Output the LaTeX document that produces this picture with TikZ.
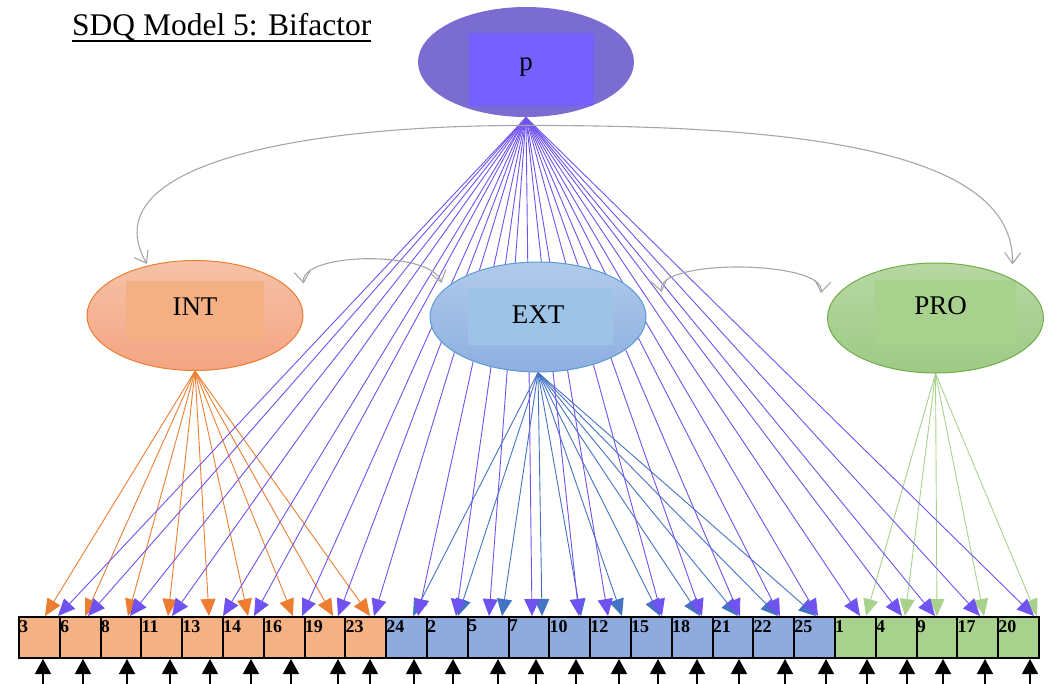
\documentclass[tikz,border=0pt]{standalone}
\usepackage{fontspec}
\setmainfont{Liberation Serif}
\usetikzlibrary{arrows.meta,shapes.geometric,backgrounds}
\definecolor{pcol}{HTML}{7B6CD1}
\definecolor{prect}{HTML}{7660FF}
\definecolor{pline}{HTML}{6F52F0}
\definecolor{oline}{HTML}{ED7D31}
\definecolor{bline}{HTML}{4472C4}
\definecolor{gline}{HTML}{A9D18E}
\definecolor{obox}{HTML}{F4B183}
\definecolor{bbox}{HTML}{8FAADC}
\definecolor{gbox}{HTML}{A9D18E}
\definecolor{ogA}{HTML}{F6C2A8}
\definecolor{ogB}{HTML}{F4A482}
\definecolor{orect}{HTML}{F3B083}
\definecolor{bgA}{HTML}{B0CAEB}
\definecolor{bgB}{HTML}{8DAFE0}
\definecolor{brect}{HTML}{9DC3E6}
\definecolor{bedge}{HTML}{5B9BD5}
\definecolor{ggA}{HTML}{B7D7A3}
\definecolor{ggB}{HTML}{9DCA85}
\definecolor{grect}{HTML}{A9D18E}
\definecolor{gedge}{HTML}{70AD47}
\definecolor{curv}{HTML}{A6A6A6}
\newcommand\myuline[1]{\setbox0\hbox{#1}\rlap{\rule[-7pt]{\wd0}{2.2pt}}\box0}
\begin{document}
\begin{tikzpicture}[x=1pt,y=-1pt,
  factor/.style={ellipse, minimum width=216pt, minimum height=110pt, inner sep=0pt, line width=1pt},
  inrect/.style n args={5}{path picture={\fill[#1] ([xshift=#2pt,yshift=#3pt]path picture bounding box.center) rectangle ([xshift=#4pt,yshift=#5pt]path picture bounding box.center);}},
  lbl/.style={inner sep=0pt, font=\fontsize{27}{31}\selectfont},
  item/.style={rectangle, draw=black, line width=2pt, minimum width=40.8pt, minimum height=41pt, inner sep=0pt},
  num/.style={anchor=north west, inner sep=0pt, xshift=1pt, yshift=-4pt, font=\bfseries\fontsize{18}{20}\selectfont},
  load/.style={line width=0.9pt, -{Triangle[length=17pt,width=15pt]}},
  err/.style={line width=1.4pt, -{Triangle[length=15pt,width=16pt]}},
  cov/.style={draw=curv, line width=1.1pt, {Straight Barb[length=11pt,width=16pt]}-{Straight Barb[length=11pt,width=16pt]}}
]
\useasboundingbox (0,0) rectangle (1049,683);

% title
\node[anchor=base west, inner sep=0pt, font=\fontsize{31.5}{36}\selectfont] (title) at (72,35) {\myuline{SDQ Model 5: Bifactor}};

% latent factors
\node[factor, fill=pcol, inrect={prect}{-57}{29}{68}{-44}, label={[lbl, yshift=-5pt]center:p}] (p) at (526,62) {};
\node[factor, draw=oline, top color=ogA, bottom color=ogB, inrect={orect}{-69}{35}{69}{-24}, label={[lbl, yshift=9pt]center:INT}] (INT) at (195,315.5) {};
\node[factor, draw=bedge, top color=bgA, bottom color=bgB, inrect={brect}{-70}{29}{75}{-28}, label={[lbl, yshift=2pt]center:EXT}] (EXT) at (538,317) {};
\node[factor, draw=gedge, top color=ggA, bottom color=ggB, inrect={grect}{-61}{38}{80}{-27}, label={[lbl, yshift=12pt, xshift=5pt]center:PRO}] (PRO) at (935.5,318) {};

% observed items
\foreach \n/\c [count=\i from 0] in {3/obox,6/obox,8/obox,11/obox,13/obox,14/obox,16/obox,19/obox,23/obox,24/bbox,2/bbox,5/bbox,7/bbox,10/bbox,12/bbox,15/bbox,18/bbox,21/bbox,22/bbox,25/bbox,1/gbox,4/gbox,9/gbox,17/gbox,20/gbox}
  \node[item, fill=\c, label={[num]north west:\n}] (b\i) at ({39.4+40.8*\i},637.5) {};

% error arrows
\foreach \ex [count=\i from 0] in {43,83,127,170,210,251,291,338,370,414,453,498,536,576,619,658,697,739,785,826,867,907,943,985,1030} {
  \coordinate (e\i) at (\ex,684);
  \draw[err] (e\i) -- (e\i |- b\i.south);
}

\begin{pgfonlayer}{background}
% specific factor loadings
\foreach \ft/\f/\lc [count=\i from 0] in {45/INT/oline,85/INT/oline,128/INT/oline,168/INT/oline,209/INT/oline,248/INT/oline,293/INT/oline,333/INT/oline,370/INT/oline,413/EXT/bline,458/EXT/bline,502/EXT/bline,542/EXT/bline,581/EXT/bline,622/EXT/bline,660/EXT/bline,700/EXT/bline,738/EXT/bline,778/EXT/bline,816/EXT/bline,866/PRO/gline,905/PRO/gline,937/PRO/gline,984/PRO/gline,1037/PRO/gline}
  \draw[load, \lc] (\f.south) -- (\ft,0 |- b\i.north);
% general factor loadings
\foreach \pt [count=\i from 0] in {58,88,130,172,223,254,302,338,374,418,456,489,532,579,608,662,702,740,780,818,860,902,935,980,1034}
  \draw[load, pline] (p.south) -- (\pt,0 |- b\i.north);
% covariances
\draw[cov] ([xshift=-48pt,yshift=-4pt]INT.north) .. controls (90,165) and (300,125) .. ([yshift=-8pt]p.south) .. controls (800,125) and (1015,150) .. ([xshift=77pt,yshift=-2pt]PRO.north);
\draw[cov] ([yshift=32pt]INT.east) .. controls (300,252) and (432,250) .. ([xshift=12pt,yshift=34pt]EXT.west);
\draw[cov] ([xshift=15pt,yshift=25pt]EXT.east) .. controls (655,258) and (826,260) .. ([xshift=-6pt,yshift=25pt]PRO.west);
\end{pgfonlayer}
\end{tikzpicture}
\end{document}
